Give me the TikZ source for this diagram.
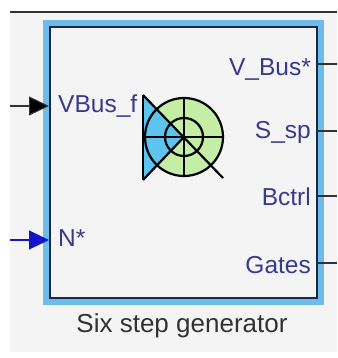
\documentclass[tikz,border=0pt]{standalone}
\usepackage{fontspec}
\setmainfont{Liberation Sans}
\usetikzlibrary{arrows.meta}
\definecolor{bgray}{RGB}{244,244,244}
\definecolor{bandblue}{RGB}{110,188,234}
\definecolor{navyline}{RGB}{25,40,70}
\definecolor{lblcol}{RGB}{58,58,140}
\definecolor{capcol}{RGB}{50,50,50}
\definecolor{icongreen}{RGB}{196,238,166}
\definecolor{iconblue}{RGB}{92,196,238}
\definecolor{inblue}{RGB}{20,20,200}
\tikzset{
  blockbox/.style={draw=navyline, line width=2pt, fill=bgray,
    preaction={draw=bandblue, line width=14pt},
    minimum width=267pt, minimum height=271pt, inner sep=0pt},
  portlbl/.style={text=lblcol, font=\fontsize{24.5}{24.5}\selectfont, inner sep=0pt},
  outwire/.style={draw=capcol, line width=1.1pt},
  inarrowk/.style={draw=capcol, line width=1.1pt, -{Triangle[length=20pt,width=19pt,fill=black]}},
  inarrowb/.style={draw=inblue, line width=1.1pt, -{Triangle[length=20pt,width=19pt,fill=inblue]}},
  iconline/.style={draw=black, line width=2.2pt}
}
\begin{document}
\begin{tikzpicture}[x=1pt,y=-1pt]
\useasboundingbox (0,0) rectangle (337,358);
\fill[bgray] (10,12) rectangle (337,352);
\draw[capcol, line width=1.5pt] (10,12) -- (337,12);
\node[blockbox] (blk) at (183.5,162.5) {};
% icon
\fill[icongreen] (184,137) circle[radius=39];
\fill[iconblue] (143,95) -- (143,180) -- (184,137) -- cycle;
\draw[iconline] (184,137) circle[radius=39];
\draw[iconline] (184,137) circle[radius=19];
\draw[iconline] (143,95) -- (143,180);
\draw[iconline] (143,95) -- (223,178);
\draw[iconline] (143,180) -- (184,137);
\draw[iconline] (143,137) -- (223,137);
\draw[iconline] (184,98) -- (184,176);
% labels
\node[portlbl, anchor=base west] (vbusf) at (58,113) {VBus\_f};
\node[portlbl, anchor=base west] (nstar) at (58,246) {N*};
\node[portlbl, anchor=base east] (vbus) at (311,76) {V\_Bus*};
\node[portlbl, anchor=base east] (ssp) at (311,139) {S\_sp};
\node[portlbl, anchor=base east] (bctrl) at (311,205) {Bctrl};
\node[portlbl, anchor=base east] (gates) at (311,273) {Gates};
\node[text=capcol, font=\fontsize{26}{26}\selectfont, anchor=base, inner sep=0pt] (cap) at (182,332) {Six step generator};
% wires
\coordinate (inA) at (10,106);
\coordinate (inB) at (10,240);
\coordinate (oA) at (337,64);
\coordinate (oB) at (337,131);
\coordinate (oC) at (337,196);
\coordinate (oD) at (337,263);
\draw[inarrowk] (inA) -- (inA -| blk.west);
\draw[inarrowb] (inB) -- (inB -| blk.west);
\draw[outwire] (oA -| blk.east) -- (oA);
\draw[outwire] (oB -| blk.east) -- (oB);
\draw[outwire] (oC -| blk.east) -- (oC);
\draw[outwire] (oD -| blk.east) -- (oD);
\end{tikzpicture}
\end{document}
